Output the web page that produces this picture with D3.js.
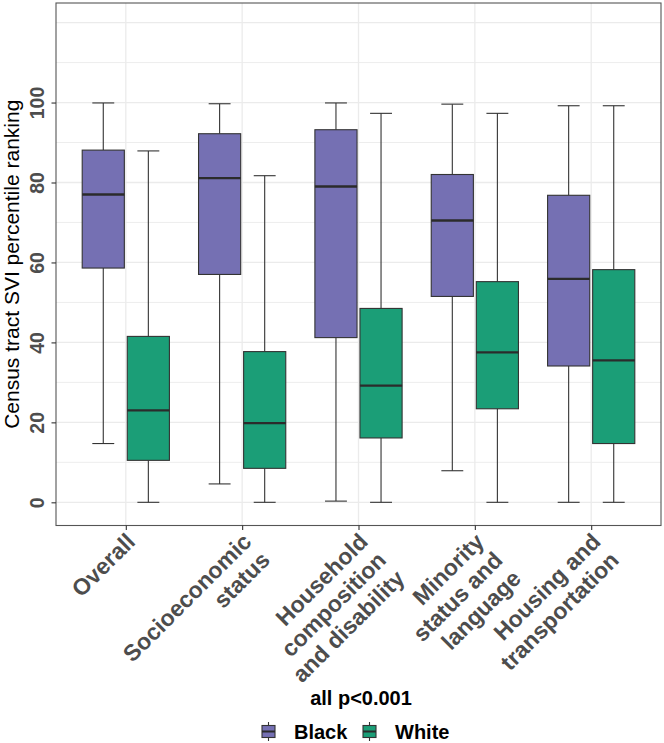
<!DOCTYPE html>
<html>
<head>
<meta charset="utf-8">
<script src="https://cdn.jsdelivr.net/npm/d3@7"></script>
<style>
  html, body { margin: 0; padding: 0; background: #fff; }
  svg { display: block; font-family: "Liberation Sans", Arial, sans-serif; }
</style>
</head>
<body>
<svg id="chart" width="664" height="743"></svg>
<script>
// ---- Data ----
const categories = ["Overall", "Socioeconomic status", "Household composition and disability", "Minority status and language", "Housing and transportation"];
const categoryLines = [["Overall"], ["Socioeconomic", "status"], ["Household", "composition", "and disability"], ["Minority", "status and", "language"], ["Housing and", "transportation"]];
const groups = ["Black", "White"];
const groupColors = ["#7570B3", "#1B9E77"];
// [lower whisker, Q1, median, Q3, upper whisker] per category
const blackStats = [
  [14.7, 58.6, 77.0, 88.1, 99.9],
  [4.6, 57.0, 81.1, 92.2, 99.7],
  [0.3, 41.2, 79.0, 93.2, 99.9],
  [7.9, 51.5, 70.5, 82.0, 99.6],
  [0.0, 34.1, 55.9, 76.8, 99.2]
];
const whiteStats = [
  [0.0, 10.5, 23.0, 41.5, 87.9],
  [0.0, 8.5, 19.8, 37.7, 81.7],
  [0.0, 16.1, 29.2, 48.5, 97.3],
  [0.0, 23.4, 37.5, 55.2, 97.3],
  [0.0, 14.7, 35.5, 58.2, 99.2]
];
const yTicks = [0, 20, 40, 60, 80, 100];
const yMajorGrid = [0, 20, 40, 60, 80, 100, 120];
const yMinorGrid = [10, 30, 50, 70, 90, 110];
const yDomain = [-5.8, 124.9];
const yTitle = "Census tract SVI percentile ranking";
const legendTitle = "all p<0.001";

// ---- Layout ----
const svg = d3.select("#chart");
const panel = { left: 56, right: 661, top: 3, bottom: 525.5 };

const x = d3.scalePoint().domain(categories).range([panel.left, panel.right]).padding(0.6);
const step = x.step();
const dodge = d3.scaleBand().domain(groups).range([-0.4 * step, 0.4 * step]).padding(0.065);
const y = d3.scaleLinear().domain(yDomain).range([panel.bottom, panel.top]);

const g = svg.append("g");

g.append("rect").attr("x", panel.left).attr("y", panel.top)
  .attr("width", panel.right - panel.left).attr("height", panel.bottom - panel.top)
  .attr("fill", "#fff");

// Grid
g.selectAll("line.minor").data(yMinorGrid).join("line").attr("class", "minor")
  .attr("x1", panel.left).attr("x2", panel.right)
  .attr("y1", d => y(d)).attr("y2", d => y(d))
  .attr("stroke", "#EBEBEB").attr("stroke-width", 0.9);
g.selectAll("line.major").data(yMajorGrid).join("line").attr("class", "major")
  .attr("x1", panel.left).attr("x2", panel.right)
  .attr("y1", d => y(d)).attr("y2", d => y(d))
  .attr("stroke", "#EBEBEB").attr("stroke-width", 1.3);
g.selectAll("line.vgrid").data(categories).join("line").attr("class", "vgrid")
  .attr("x1", d => x(d)).attr("x2", d => x(d))
  .attr("y1", panel.top).attr("y2", panel.bottom)
  .attr("stroke", "#EBEBEB").attr("stroke-width", 1.3);

// Boxplots
const boxW = dodge.bandwidth();
const capW = boxW * 0.52;
const allStats = [blackStats, whiteStats];
groups.forEach((grp, gi) => {
  const stats = allStats[gi];
  const gg = g.append("g");
  categories.forEach((cat, ci) => {
    const s = stats[ci];
    const cx = x(cat) + dodge(grp) + boxW / 2;
    const b = gg.append("g");
    b.append("line").attr("x1", cx).attr("x2", cx).attr("y1", y(s[3])).attr("y2", y(s[4]))
      .attr("stroke", "#333").attr("stroke-width", 1.1);
    b.append("line").attr("x1", cx).attr("x2", cx).attr("y1", y(s[1])).attr("y2", y(s[0]))
      .attr("stroke", "#333").attr("stroke-width", 1.1);
    [s[0], s[4]].forEach(v => {
      b.append("line").attr("x1", cx - capW / 2).attr("x2", cx + capW / 2)
        .attr("y1", y(v)).attr("y2", y(v)).attr("stroke", "#333").attr("stroke-width", 1.1);
    });
    b.append("rect").attr("x", cx - boxW / 2).attr("y", y(s[3]))
      .attr("width", boxW).attr("height", y(s[1]) - y(s[3]))
      .attr("fill", groupColors[gi]).attr("stroke", "#333").attr("stroke-width", 1.1);
    b.append("line").attr("x1", cx - boxW / 2).attr("x2", cx + boxW / 2)
      .attr("y1", y(s[2])).attr("y2", y(s[2])).attr("stroke", "#2b2b2b").attr("stroke-width", 2.3);
  });
});

// Panel border
g.append("rect").attr("x", panel.left).attr("y", panel.top)
  .attr("width", panel.right - panel.left).attr("height", panel.bottom - panel.top)
  .attr("fill", "none").attr("stroke", "#555").attr("stroke-width", 1.1);

// Y axis ticks + labels
const yAxis = d3.axisLeft(y).tickValues(yTicks).tickSize(4.5).tickPadding(0).tickFormat(d3.format("d"));
const ya = svg.append("g").attr("transform", `translate(${panel.left},0)`).call(yAxis);
ya.select(".domain").remove();
ya.selectAll(".tick line").attr("stroke", "#333").attr("stroke-width", 1.1);
ya.selectAll(".tick text").remove();
ya.selectAll(".tick").append("text")
  .attr("transform", "translate(-19.5,0) rotate(-90)")
  .attr("text-anchor", "middle").attr("dy", "0.36em")
  .attr("fill", "#4D4D4D").attr("font-weight", "bold").attr("font-size", 19.5)
  .text(d => d);

// X axis ticks
const xAxis = d3.axisBottom(x).tickSize(4.5).tickFormat("");
const xa = svg.append("g").attr("transform", `translate(0,${panel.bottom})`).call(xAxis);
xa.select(".domain").remove();
xa.selectAll(".tick line").attr("stroke", "#333").attr("stroke-width", 1.1);

// X labels (rotated 45)
categories.forEach((cat, ci) => {
  const t = svg.append("text")
    .attr("transform", `translate(${x(cat) - 1},531.5) rotate(-45)`)
    .attr("text-anchor", "end").attr("fill", "#4D4D4D")
    .attr("font-weight", "bold").attr("font-size", 23);
  categoryLines[ci].forEach((ln, li) => {
    t.append("tspan").attr("x", 0).attr("y", 16.5 + li * 26).text(ln);
  });
});

// Y title
svg.append("text")
  .attr("transform", `translate(18.5,${(panel.top + panel.bottom) / 2}) rotate(-90)`)
  .attr("text-anchor", "middle").attr("font-size", 21).attr("fill", "#000")
  .text(yTitle);

// Legend
svg.append("text").attr("x", 361).attr("y", 705).attr("text-anchor", "middle")
  .attr("font-weight", "bold").attr("font-size", 20).attr("fill", "#000")
  .text(legendTitle);

const legendX = [262, 363];
groups.forEach((grp, gi) => {
  const lg = svg.append("g").attr("transform", `translate(${legendX[gi]},722)`);
  const kcx = 6.5;
  lg.append("line").attr("x1", kcx).attr("x2", kcx).attr("y1", 0).attr("y2", 19)
    .attr("stroke", "#333").attr("stroke-width", 1.1);
  lg.append("rect").attr("x", 0).attr("y", 3.5).attr("width", 13).attr("height", 12)
    .attr("fill", groupColors[gi]).attr("stroke", "#333").attr("stroke-width", 1.1);
  lg.append("line").attr("x1", 0).attr("x2", 13).attr("y1", 9.5).attr("y2", 9.5)
    .attr("stroke", "#2b2b2b").attr("stroke-width", 2);
  lg.append("text").attr("x", 32).attr("y", 17).attr("font-weight", "bold")
    .attr("font-size", 20).attr("fill", "#000").text(grp);
});
</script>
</body>
</html>
